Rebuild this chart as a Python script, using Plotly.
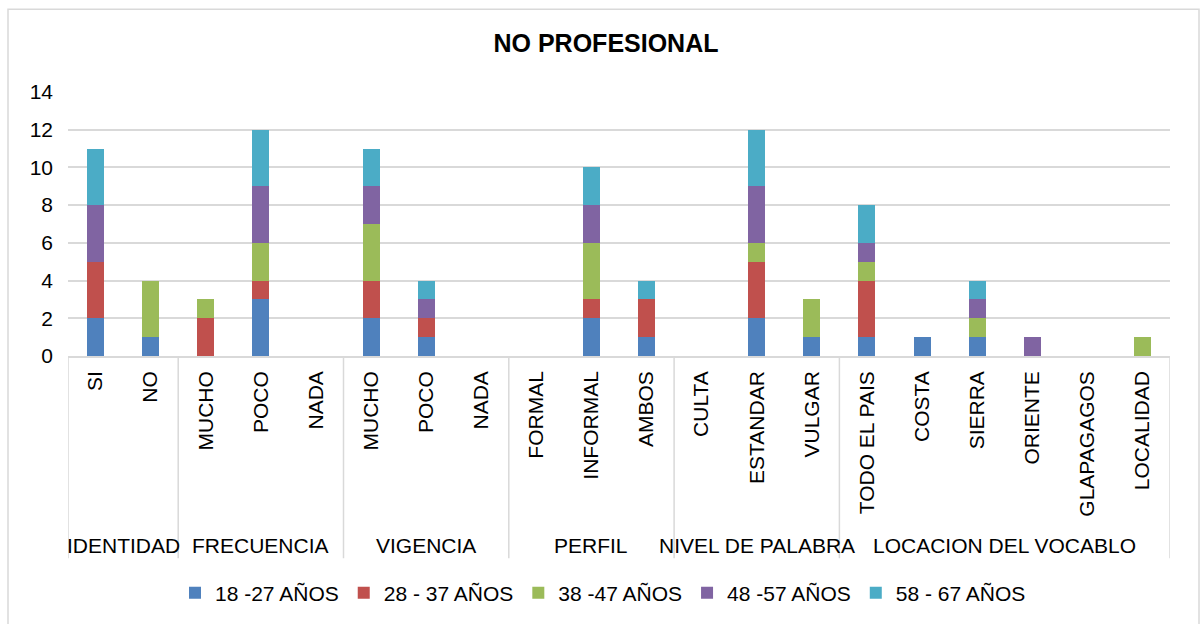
import plotly.graph_objects as go

# Categories (lower level) and their groups (upper level)
categories = ["SI", "NO",
              "MUCHO", "POCO", "NADA",
              "MUCHO", "POCO", "NADA",
              "FORMAL", "INFORMAL", "AMBOS",
              "CULTA", "ESTANDAR", "VULGAR",
              "TODO EL PAIS", "COSTA", "SIERRA", "ORIENTE", "GLAPAGAGOS", "LOCALIDAD"]
group_names = ["IDENTIDAD", "FRECUENCIA", "VIGENCIA", "PERFIL",
               "NIVEL DE PALABRA", "LOCACION DEL VOCABLO"]
group_sizes = [2, 3, 3, 3, 3, 6]

# Counts per age range
series_names = ["18 -27 AÑOS", "28 - 37 AÑOS", "38 -47 AÑOS", "48 -57 AÑOS", "58 - 67 AÑOS"]
age_18_27 = [2, 1, 0, 3, 0, 2, 1, 0, 0, 2, 1, 0, 2, 1, 1, 1, 1, 0, 0, 0]
age_28_37 = [3, 0, 2, 1, 0, 2, 1, 0, 0, 1, 2, 0, 3, 0, 3, 0, 0, 0, 0, 0]
age_38_47 = [0, 3, 1, 2, 0, 3, 0, 0, 0, 3, 0, 0, 1, 2, 1, 0, 1, 0, 0, 1]
age_48_57 = [3, 0, 0, 3, 0, 2, 1, 0, 0, 2, 0, 0, 3, 0, 1, 0, 1, 1, 0, 0]
age_58_67 = [3, 0, 0, 3, 0, 2, 1, 0, 0, 2, 1, 0, 3, 0, 2, 0, 1, 0, 0, 0]
y_ticks = [0, 2, 4, 6, 8, 10, 12, 14]

colors = ["#4F81BD", "#C0504D", "#9BBB59", "#8064A2", "#4BACC6"]
FONT = "Liberation Sans, Arial, sans-serif"
GRID = "#D9D9D9"

x_pos = list(range(len(categories)))
fig = go.Figure()
for name, vals, col in zip(series_names,
                           [age_18_27, age_28_37, age_38_47, age_48_57, age_58_67],
                           colors):
    fig.add_trace(go.Bar(x=x_pos, y=vals, name=name, width=0.31,
                         marker=dict(color=col, line=dict(width=0))))

# Plot-area height in pixels, used to place labels below the axis
plot_h = 265.0

def px_below(px):
    return -px / plot_h

shapes = []
annotations = []
start = 0
bounds = [-0.5]
for gname, gsize in zip(group_names, group_sizes):
    center = start + (gsize - 1) / 2.0
    annotations.append(dict(x=center, xref="x", y=px_below(190), yref="paper",
                            text=gname, showarrow=False, xanchor="center",
                            yanchor="middle",
                            font=dict(family=FONT, size=21, color="#000000")))
    start += gsize
    bounds.append(start - 0.5)

# Vertical separators between the category groups
for b in bounds:
    shapes.append(dict(type="line", xref="x", yref="paper", x0=b, x1=b,
                       y0=0, y1=px_below(203), line=dict(color=GRID, width=1.5)))

# Outer chart border
shapes.append(dict(type="rect", xref="paper", yref="paper",
                   x0=-60 / 1102, x1=1131 / 1102, y0=-1.05, y1=348 / plot_h,
                   line=dict(color=GRID, width=1.5), fillcolor="rgba(0,0,0,0)",
                   layer="below"))

fig.update_layout(
    barmode="stack",
    width=1203, height=624,
    margin=dict(l=68, r=33, t=92, b=267),
    paper_bgcolor="white", plot_bgcolor="white",
    font=dict(family=FONT, size=21, color="#000000"),
    title=dict(text="<b>NO PROFESIONAL</b>", x=538 / 1102, xref="paper",
               xanchor="center", y=1 - 43 / 624, yref="container",
               yanchor="middle", font=dict(family=FONT, size=25, color="#000000")),
    xaxis=dict(range=[-0.5, len(categories) - 0.5], tickmode="array",
               tickvals=x_pos, ticktext=categories, tickangle=-90,
               showgrid=False, zeroline=False, showline=True,
               linecolor=GRID, linewidth=1.5, ticks="",
               ticklabelstandoff=5,
               tickfont=dict(family=FONT, size=21, color="#000000")),
    yaxis=dict(range=[0, 14], tickmode="array", tickvals=y_ticks,
               showgrid=True, gridcolor=GRID, gridwidth=1.5,
               zeroline=False, showline=False, ticks="",
               ticklabelstandoff=14,
               tickfont=dict(family=FONT, size=21, color="#000000")),
    legend=dict(orientation="h", x=535 / 1102, xanchor="center",
                y=px_below(236), yanchor="middle",
                font=dict(family=FONT, size=21, color="#000000"),
                itemwidth=30, traceorder="normal"),
    shapes=shapes,
    annotations=annotations,
    showlegend=True,
    bargap=0,
)

fig.write_html("out.html")
